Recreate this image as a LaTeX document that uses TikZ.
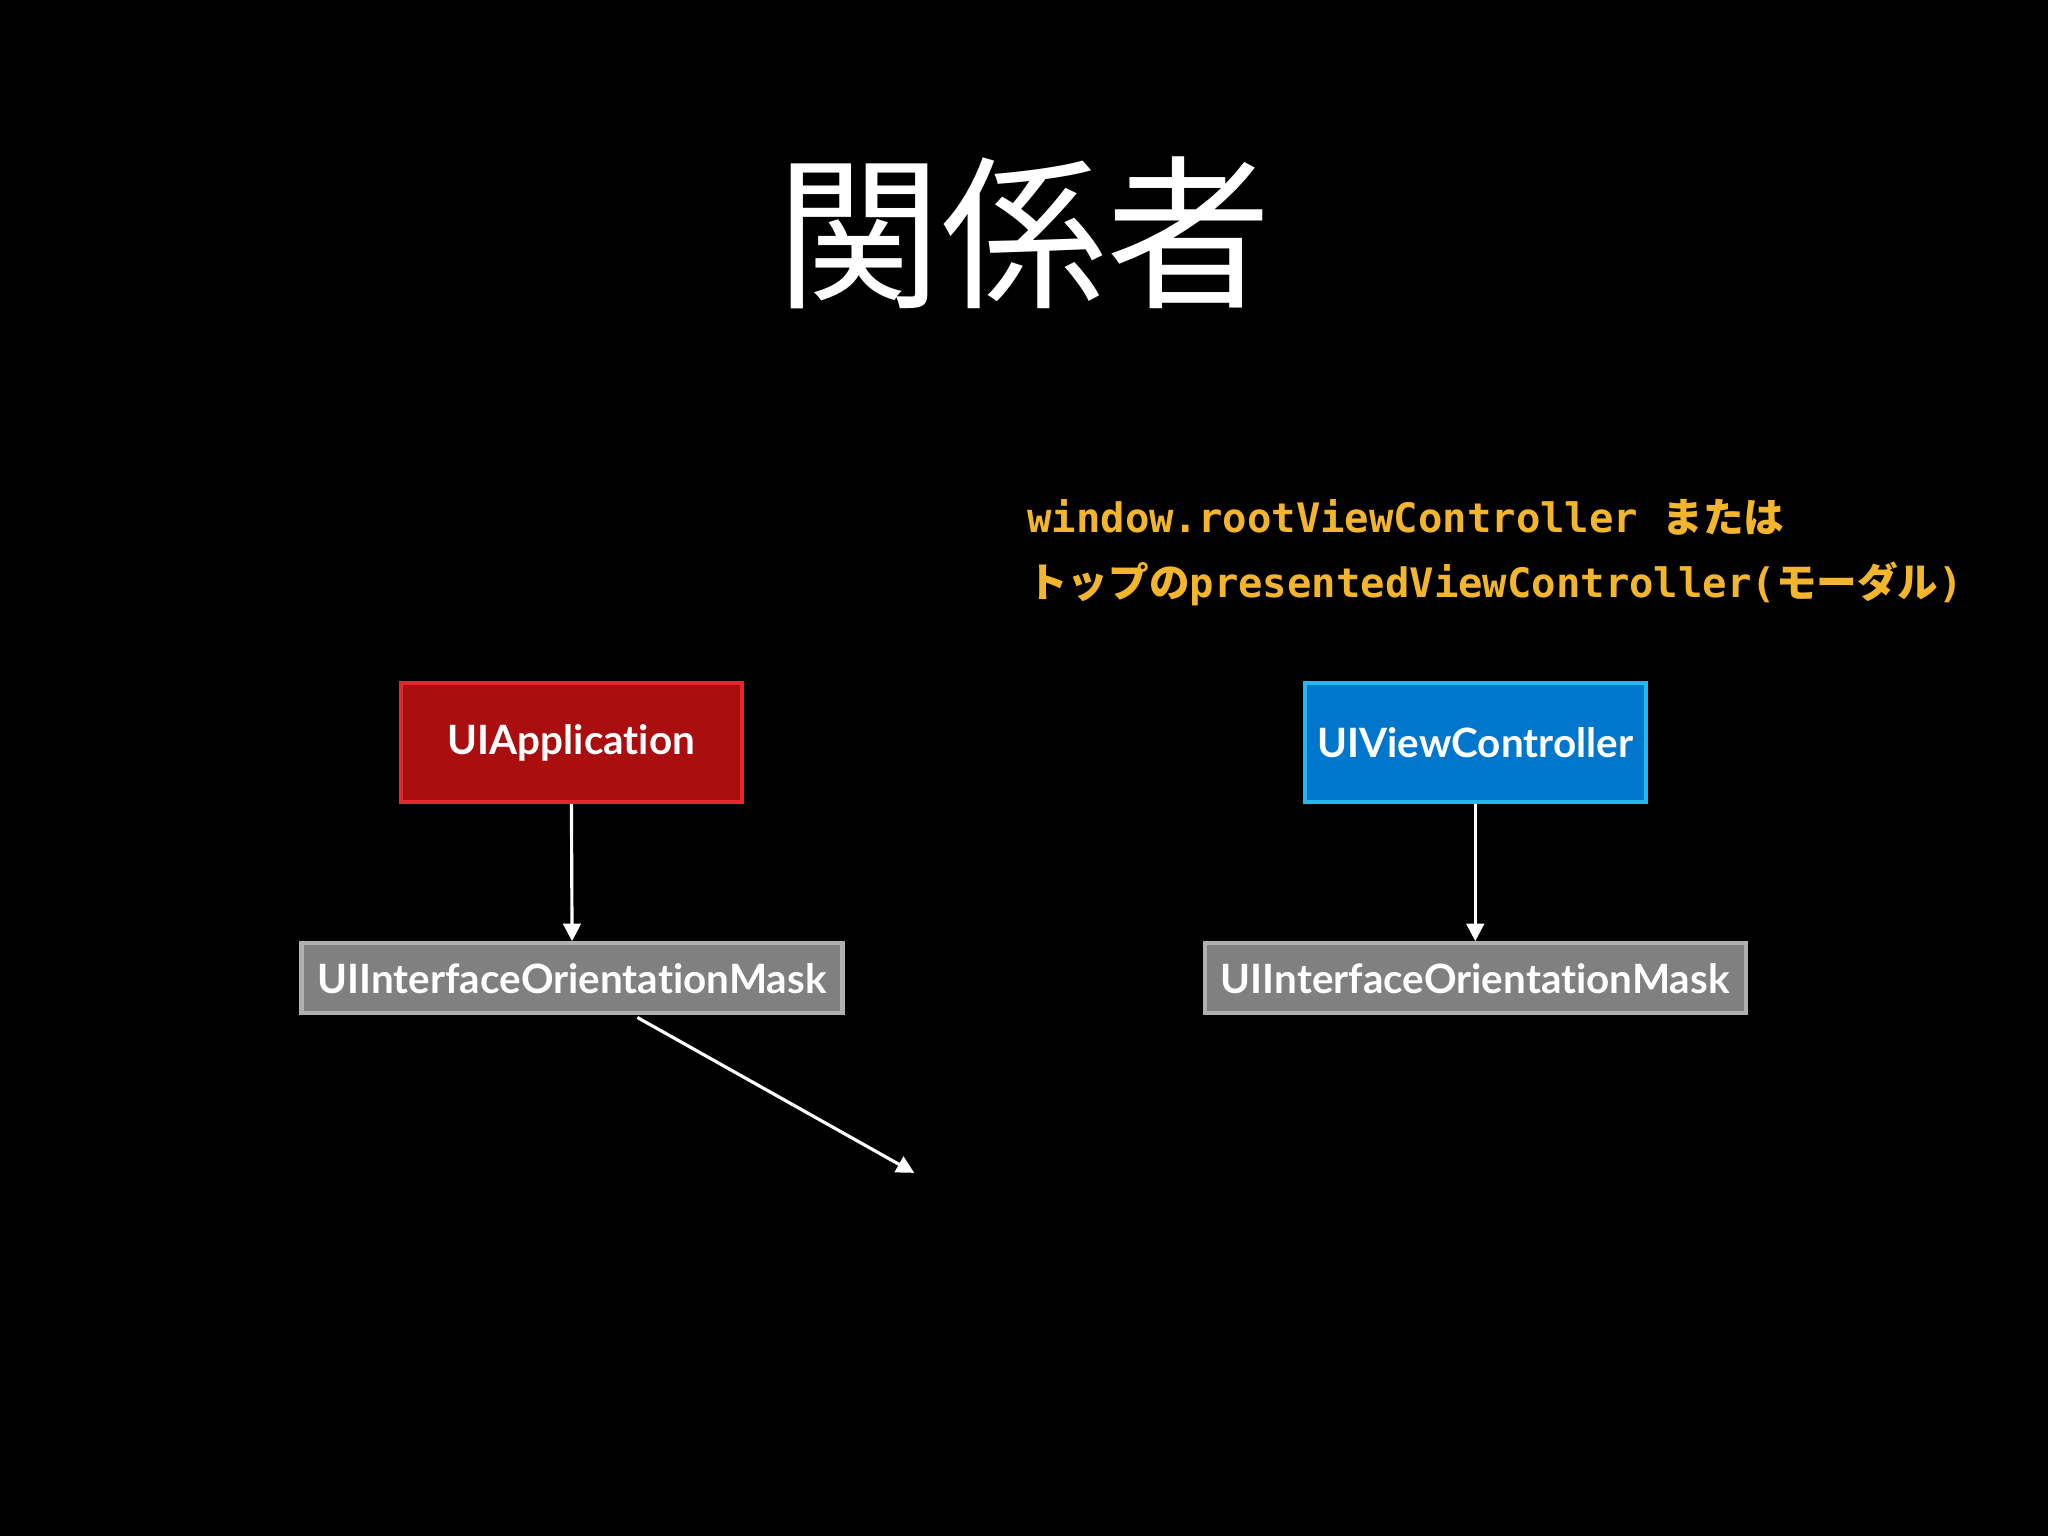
\documentclass[tikz,border=0pt]{standalone}
\usepackage{fontspec}
\setmainfont{Lato}[Ligatures=NoCommon]
\newfontfamily\cjk{Noto Sans CJK JP}
\newfontfamily\code{DejaVu Sans Mono}[BoldFont={DejaVu Sans Mono Bold}]
\usetikzlibrary{arrows.meta}
\definecolor{codey}{HTML}{F2B52B}
\begin{document}
\begin{tikzpicture}[x=0.01306cm,y=-0.01306cm,
  box/.style={draw,line width=1.2pt,text=white,font=\bfseries\fontsize{11.5}{14}\selectfont,inner sep=0pt},
  arr/.style={draw=white,line width=0.9pt,-{Triangle[width=5pt,length=5pt]}}]
\fill[black] (0,0) rectangle (1568,1176);
\useasboundingbox (0,0) rectangle (1568,1176);
\node[text=white,font=\cjk\fontsize{47}{50}\selectfont] (title) at (784,178) {関係者};
\node[anchor=west,text=codey,font=\code\bfseries\fontsize{11.55}{13}\selectfont] (l1) at (777,396) {window.rootViewController {\cjk または}};
\node[anchor=west,text=codey,font=\code\bfseries\fontsize{11.55}{13}\selectfont] (l2) at (777,447) {{\cjk トップの}presentedViewController({\cjk モーダル})};
\node[box,fill={rgb,255:red,170;green,14;blue,14},draw={rgb,255:red,226;green,40;blue,42},minimum width=3.41cm,minimum height=1.19cm] (app) at (437.5,568.5) {UIApplication};
\node[box,fill={rgb,255:red,0;green,119;blue,204},draw={rgb,255:red,34;green,184;blue,240},minimum width=3.41cm,minimum height=1.19cm] (vc) at (1129.5,568.5) {UIViewController};
\node[box,fill={rgb,255:red,128;green,128;blue,128},draw={rgb,255:red,176;green,176;blue,176},minimum width=5.41cm,minimum height=0.70cm] (m1) at (438,749) {UIInterfaceOrientationMask};
\node[box,fill={rgb,255:red,128;green,128;blue,128},draw={rgb,255:red,176;green,176;blue,176},minimum width=5.41cm,minimum height=0.70cm] (m2) at (1129.5,749) {UIInterfaceOrientationMask};
\draw[arr] (app.south) -- (m1.north);
\draw[arr] (vc.south) -- (m2.north);
\coordinate (m1s) at (488,779);
\coordinate (end) at (700,898);
\draw[arr] (m1s) -- (end);
\end{tikzpicture}
\end{document}
